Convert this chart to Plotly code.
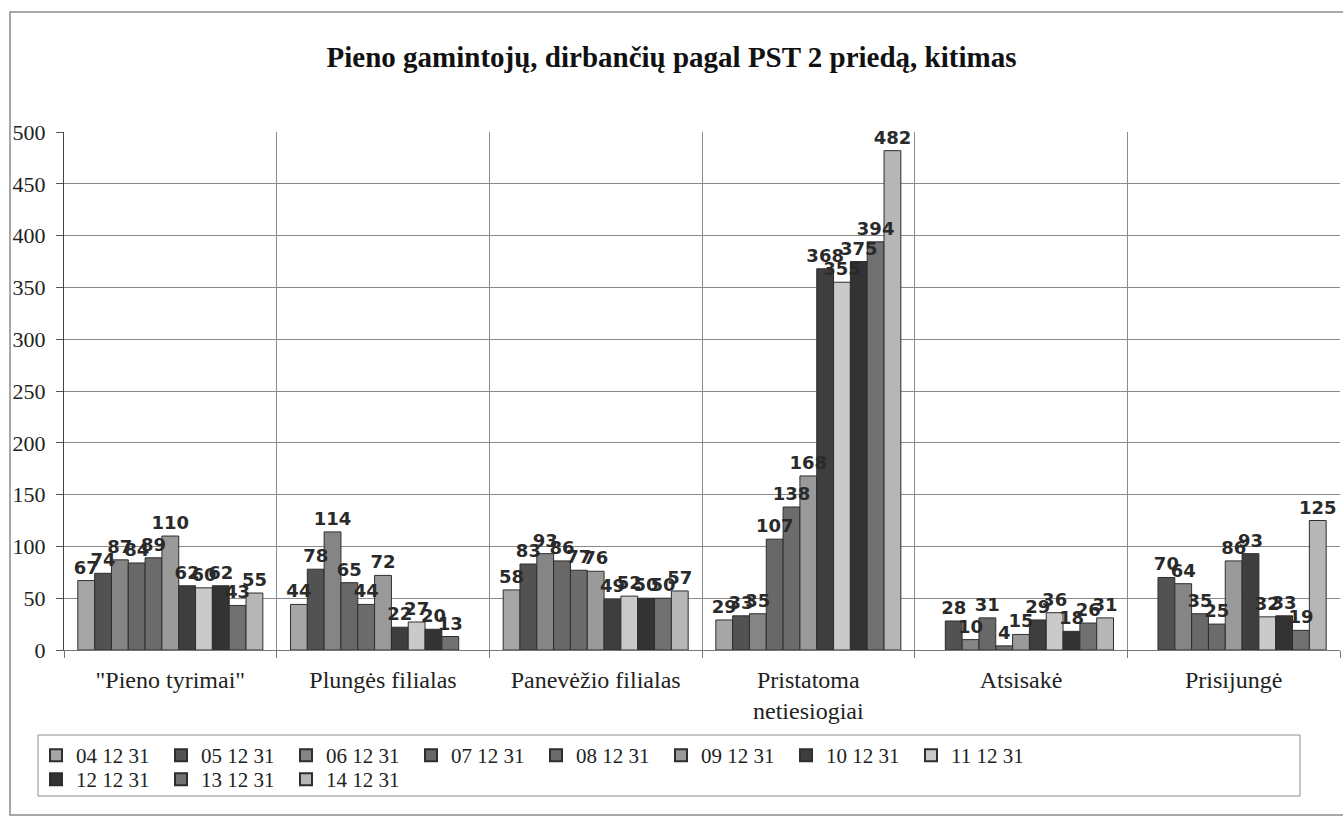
import plotly.graph_objects as go

categories = ['"Pieno tyrimai"', "Plungės filialas", "Panevėžio filialas",
              "Pristatoma<br>netiesiogiai", "Atsisakė", "Prisijungė"]
series_names = ["04 12 31", "05 12 31", "06 12 31", "07 12 31", "08 12 31", "09 12 31",
                "10 12 31", "11 12 31", "12 12 31", "13 12 31", "14 12 31"]

# values per date, one entry per category (None = no bar)
v04 = [67, 44, 58, 29, None, None]
v05 = [74, 78, 83, 33, 28, 70]
v06 = [87, 114, 93, 35, 10, 64]
v07 = [84, 65, 86, 107, 31, 35]
v08 = [89, 44, 77, 138, 4, 25]
v09 = [110, 72, 76, 168, 15, 86]
v10 = [62, 22, 49, 368, 29, 93]
v11 = [60, 27, 52, 355, 36, 32]
v12 = [62, 20, 50, 375, 18, 33]
v13 = [43, 13, 50, 394, 26, 19]
v14 = [55, None, 57, 482, 31, 125]
series_values = [v04, v05, v06, v07, v08, v09, v10, v11, v12, v13, v14]

bar_colors = ["#a6a6a6", "#525252", "#858585", "#686868", "#6c6c6c", "#9a9a9a",
              "#3e3e3e", "#cacaca", "#333333", "#717171", "#b6b6b6"]

fig = go.Figure()
# filled bars
for i, (name, vals, col) in enumerate(zip(series_names, series_values, bar_colors)):
    fig.add_trace(go.Bar(
        name=name, x=categories, y=vals, offsetgroup=str(i),
        legend="legend" if i < 8 else "legend2",
        marker=dict(color=col, line=dict(color="#2e2e2e", width=1)),
    ))
# value labels, drawn after every bar so they sit on top
for i, (name, vals) in enumerate(zip(series_names, series_values)):
    fig.add_trace(go.Bar(
        name=name, x=categories, y=vals, offsetgroup=str(i), showlegend=False,
        marker=dict(color="rgba(0,0,0,0)", line=dict(width=0)),
        text=[("" if v is None else str(v)) for v in vals],
        textposition="outside", constraintext="none", cliponaxis=False,
        textfont=dict(family="DejaVu Sans", size=18, color="#2a2a2a", weight="bold"),
        hoverinfo="skip",
    ))

W_PLOT, H_PLOT, L, T = 1276, 518, 64, 132


def px_x(x):
    return (x - L) / W_PLOT


def px_y(y):
    return (T + H_PLOT - y) / H_PLOT


legend_style = dict(orientation="h", xanchor="left", yanchor="top",
                    entrywidth=80, entrywidthmode="pixels",
                    font=dict(family="Liberation Serif", size=21, color="#222222"),
                    bgcolor="rgba(0,0,0,0)", borderwidth=0, traceorder="normal",
                    itemsizing="constant", tracegroupgap=0)

fig.update_layout(
    width=1343, height=816,
    margin=dict(l=L, r=1343 - L - W_PLOT, t=T, b=816 - T - H_PLOT),
    paper_bgcolor="white", plot_bgcolor="white",
    barmode="group", bargap=0.13, bargroupgap=0,
    title=dict(text="<b>Pieno gamintojų, dirbančių pagal PST 2 priedą, kitimas</b>",
               x=0.5, xref="container", xanchor="center",
               y=1 - 57 / 816, yref="container", yanchor="middle",
               font=dict(family="Liberation Serif", size=29, color="#111111")),
    showlegend=True,
    legend=dict(x=px_x(36), y=px_y(735), **legend_style),
    legend2=dict(x=px_x(36), y=px_y(759), **legend_style),
    font=dict(family="Liberation Serif", color="#222222"),
)

fig.update_xaxes(
    type="category", tickson="boundaries", showgrid=True, gridcolor="#8a8a8a", gridwidth=1,
    showline=True, linecolor="#777777", linewidth=1, ticks="outside", ticklen=7,
    tickcolor="#777777", ticklabelstandoff=8,
    tickfont=dict(family="Liberation Serif", size=24, color="#222222"),
    range=[-0.5, 5.5],
)
fig.update_yaxes(
    range=[0, 500], dtick=50, showgrid=True, gridcolor="#8a8a8a", gridwidth=1,
    showline=True, linecolor="#444444", linewidth=1, ticks="outside", ticklen=7,
    tickcolor="#555555", zeroline=False, ticklabelstandoff=6,
    tickfont=dict(family="Liberation Serif", size=22, color="#222222"),
)

# outer chart frame and legend frame
fig.add_shape(type="rect", xref="paper", yref="paper",
              x0=px_x(10), x1=px_x(1352), y0=px_y(815), y1=px_y(12),
              line=dict(color="#8c8c8c", width=1.5), fillcolor="rgba(0,0,0,0)", layer="below")
fig.add_shape(type="rect", xref="paper", yref="paper",
              x0=px_x(38), x1=px_x(1300), y0=px_y(796), y1=px_y(735),
              line=dict(color="#8c8c8c", width=1), fillcolor="rgba(0,0,0,0)")

fig.write_html("out.html")
